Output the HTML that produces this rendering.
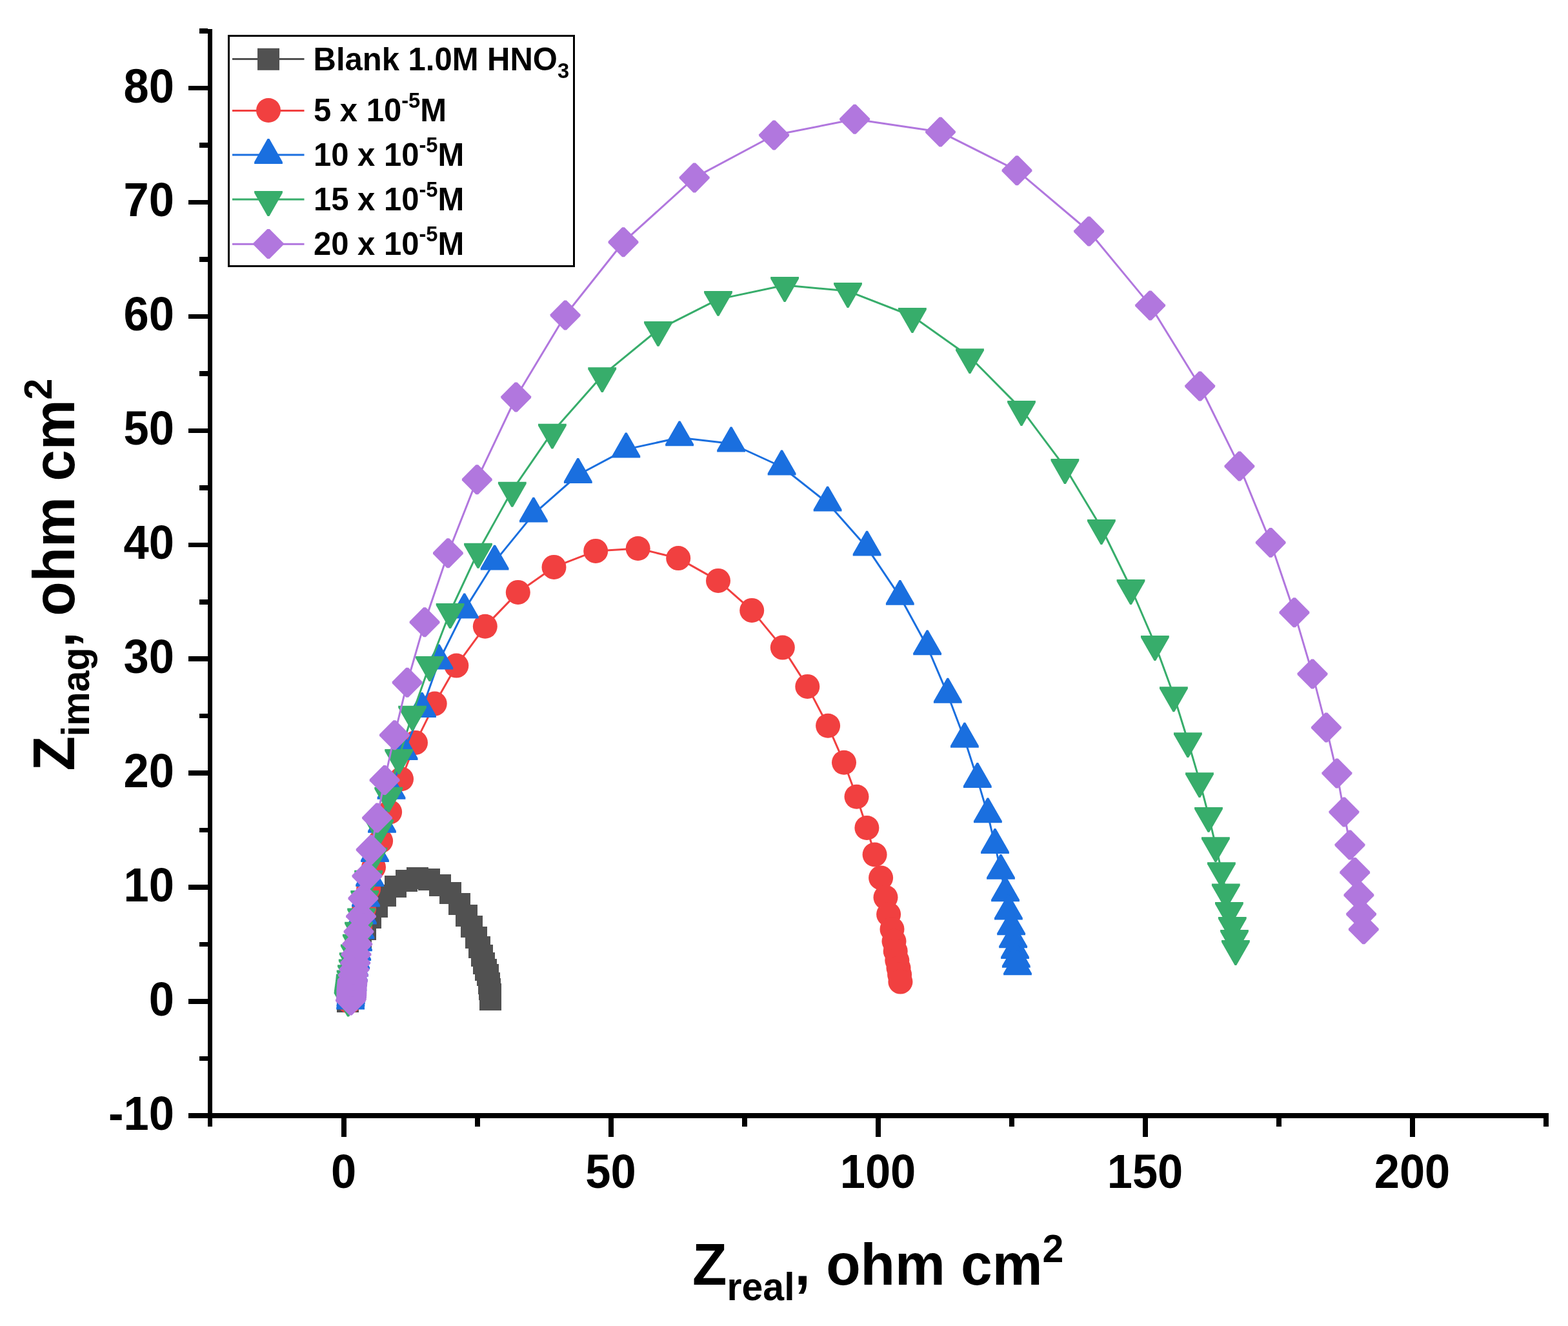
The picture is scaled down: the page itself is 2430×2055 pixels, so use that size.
<!DOCTYPE html>
<html><head><meta charset="utf-8"><title>Nyquist plot</title>
<style>html,body{margin:0;padding:0;background:#fff;overflow:hidden;}svg{display:block;}</style></head><body>
<svg width="2430" height="2055" viewBox="0 0 2430 2055">
<rect width="2430" height="2055" fill="#fff"/>
<g fill="#515151" shape-rendering="crispEdges">
<polyline points="538.9,1552 539.3,1547 539.8,1542 540.5,1536 541.5,1529 542.8,1521 544.5,1512 546.5,1503 549,1493 551.8,1483 555,1472 559.3,1456.8 566.1,1439.8 574.2,1422.1 584.3,1405.2 597.4,1388.2 612.9,1374 629.8,1364.7 647,1360.7 665.1,1362.8 682.3,1371.8 698.1,1383.9 712.1,1400.8 723.2,1418.8 731.1,1435.7 738,1452.8 743.1,1467.6 746.9,1480.8 750.1,1492.6 753.4,1502.9 755.6,1511.3 757.5,1523.8 759,1532.7 759.6,1541 760,1549" fill="none" stroke="#515151" stroke-width="3" stroke-linejoin="round"/>
<rect x="521.9" y="1535" width="34" height="34"/>
<rect x="522.3" y="1530" width="34" height="34"/>
<rect x="522.8" y="1525" width="34" height="34"/>
<rect x="523.5" y="1519" width="34" height="34"/>
<rect x="524.5" y="1512" width="34" height="34"/>
<rect x="525.8" y="1504" width="34" height="34"/>
<rect x="527.5" y="1495" width="34" height="34"/>
<rect x="529.5" y="1486" width="34" height="34"/>
<rect x="532" y="1476" width="34" height="34"/>
<rect x="534.8" y="1466" width="34" height="34"/>
<rect x="538" y="1455" width="34" height="34"/>
<rect x="542.3" y="1439.8" width="34" height="34"/>
<rect x="549.1" y="1422.8" width="34" height="34"/>
<rect x="557.2" y="1405.1" width="34" height="34"/>
<rect x="567.3" y="1388.2" width="34" height="34"/>
<rect x="580.4" y="1371.2" width="34" height="34"/>
<rect x="595.9" y="1357" width="34" height="34"/>
<rect x="612.8" y="1347.7" width="34" height="34"/>
<rect x="630" y="1343.7" width="34" height="34"/>
<rect x="648.1" y="1345.8" width="34" height="34"/>
<rect x="665.3" y="1354.8" width="34" height="34"/>
<rect x="681.1" y="1366.9" width="34" height="34"/>
<rect x="695.1" y="1383.8" width="34" height="34"/>
<rect x="706.2" y="1401.8" width="34" height="34"/>
<rect x="714.1" y="1418.7" width="34" height="34"/>
<rect x="721" y="1435.8" width="34" height="34"/>
<rect x="726.1" y="1450.6" width="34" height="34"/>
<rect x="729.9" y="1463.8" width="34" height="34"/>
<rect x="733.1" y="1475.6" width="34" height="34"/>
<rect x="736.4" y="1485.9" width="34" height="34"/>
<rect x="738.6" y="1494.3" width="34" height="34"/>
<rect x="740.5" y="1506.8" width="34" height="34"/>
<rect x="742" y="1515.7" width="34" height="34"/>
<rect x="742.6" y="1524" width="34" height="34"/>
<rect x="743" y="1532" width="34" height="34"/>
</g>
<g fill="#F14040">
<polyline points="541.5,1552 541.8,1548 542.1,1544 542.5,1539 543,1533 543.6,1527 544.4,1520 545.4,1512 546.7,1503 548.2,1493 549.8,1483 553,1462 558,1437 564,1408.7 571.2,1377 579,1344.1 590.1,1303.3 604.1,1258.5 622,1207.3 644,1150.9 673.7,1090.6 707.3,1031.6 751.8,970.8 802.8,917.9 858.5,878.9 923.2,853.9 988.7,850 1051.2,865.1 1113,899.9 1165.2,945.9 1212.8,1003.6 1251.3,1063.9 1283.1,1124.7 1308,1181.8 1327.5,1234.8 1343.4,1283 1355.6,1324.5 1365.1,1360.4 1372.5,1390.7 1377.1,1417 1382.5,1440 1385.5,1458.7 1387.7,1474 1390.3,1488.4 1392.5,1500.3 1394.1,1510.5 1395.4,1521.6" fill="none" stroke="#F14040" stroke-width="3" stroke-linejoin="round"/>
<circle cx="541.5" cy="1552" r="19"/>
<circle cx="541.8" cy="1548" r="19"/>
<circle cx="542.1" cy="1544" r="19"/>
<circle cx="542.5" cy="1539" r="19"/>
<circle cx="543" cy="1533" r="19"/>
<circle cx="543.6" cy="1527" r="19"/>
<circle cx="544.4" cy="1520" r="19"/>
<circle cx="545.4" cy="1512" r="19"/>
<circle cx="546.7" cy="1503" r="19"/>
<circle cx="548.2" cy="1493" r="19"/>
<circle cx="549.8" cy="1483" r="19"/>
<circle cx="553" cy="1462" r="19"/>
<circle cx="558" cy="1437" r="19"/>
<circle cx="564" cy="1408.7" r="19"/>
<circle cx="571.2" cy="1377" r="19"/>
<circle cx="579" cy="1344.1" r="19"/>
<circle cx="590.1" cy="1303.3" r="19"/>
<circle cx="604.1" cy="1258.5" r="19"/>
<circle cx="622" cy="1207.3" r="19"/>
<circle cx="644" cy="1150.9" r="19"/>
<circle cx="673.7" cy="1090.6" r="19"/>
<circle cx="707.3" cy="1031.6" r="19"/>
<circle cx="751.8" cy="970.8" r="19"/>
<circle cx="802.8" cy="917.9" r="19"/>
<circle cx="858.5" cy="878.9" r="19"/>
<circle cx="923.2" cy="853.9" r="19"/>
<circle cx="988.7" cy="850" r="19"/>
<circle cx="1051.2" cy="865.1" r="19"/>
<circle cx="1113" cy="899.9" r="19"/>
<circle cx="1165.2" cy="945.9" r="19"/>
<circle cx="1212.8" cy="1003.6" r="19"/>
<circle cx="1251.3" cy="1063.9" r="19"/>
<circle cx="1283.1" cy="1124.7" r="19"/>
<circle cx="1308" cy="1181.8" r="19"/>
<circle cx="1327.5" cy="1234.8" r="19"/>
<circle cx="1343.4" cy="1283" r="19"/>
<circle cx="1355.6" cy="1324.5" r="19"/>
<circle cx="1365.1" cy="1360.4" r="19"/>
<circle cx="1372.5" cy="1390.7" r="19"/>
<circle cx="1377.1" cy="1417" r="19"/>
<circle cx="1382.5" cy="1440" r="19"/>
<circle cx="1385.5" cy="1458.7" r="19"/>
<circle cx="1387.7" cy="1474" r="19"/>
<circle cx="1390.3" cy="1488.4" r="19"/>
<circle cx="1392.5" cy="1500.3" r="19"/>
<circle cx="1394.1" cy="1510.5" r="19"/>
<circle cx="1395.4" cy="1521.6" r="19"/>
</g>
<g fill="#1A6FDF">
<polyline points="543.1,1551.4 543.4,1547.5 543.8,1543.5 544.2,1539.5 544.7,1535 545.2,1531 545.8,1527 546.4,1523 547,1516 548.1,1508.6 549.1,1500.5 551.2,1489.2 553.2,1476 554.9,1461.2 558.3,1442.3 561.9,1419.5 567,1392.5 573.1,1360.9 581,1322.9 592,1277.8 606.5,1225.8 625.6,1164.9 654,1099 680.3,1024.5 719.7,945.4 766.6,870.6 826.9,796.6 895.8,736 970.3,696.4 1053.1,678.3 1133.1,687.5 1211.6,723.5 1282.6,779.6 1343.6,848.6 1394.8,924.8 1437.1,1002.3 1468.8,1076.7 1494.9,1145.7 1514.8,1207.9 1530.9,1262.3 1542,1310 1551,1349.8 1558,1384.2 1562.9,1412.6 1567.1,1436.3 1570.1,1456.2 1573,1473 1574.8,1486.8 1577,1498.3" fill="none" stroke="#1A6FDF" stroke-width="3" stroke-linejoin="round"/>
<path d="M541.8 1525.5 L544.5 1525.5 L565 1561.4 L565 1564.4 L521.2 1564.4 L521.2 1561.4Z"/>
<path d="M542 1521.6 L544.8 1521.6 L565.3 1557.5 L565.3 1560.5 L521.5 1560.5 L521.5 1557.5Z"/>
<path d="M542.4 1517.6 L545.1 1517.6 L565.7 1553.5 L565.7 1556.5 L521.9 1556.5 L521.9 1553.5Z"/>
<path d="M542.9 1513.6 L545.6 1513.6 L566.1 1549.5 L566.1 1552.5 L522.3 1552.5 L522.3 1549.5Z"/>
<path d="M543.4 1509.1 L546.1 1509.1 L566.6 1545 L566.6 1548 L522.8 1548 L522.8 1545Z"/>
<path d="M543.9 1505.1 L546.6 1505.1 L567.1 1541 L567.1 1544 L523.3 1544 L523.3 1541Z"/>
<path d="M544.4 1501.1 L547.1 1501.1 L567.7 1537 L567.7 1540 L523.9 1540 L523.9 1537Z"/>
<path d="M545 1497.1 L547.8 1497.1 L568.3 1533 L568.3 1536 L524.5 1536 L524.5 1533Z"/>
<path d="M545.6 1490.1 L548.4 1490.1 L568.9 1526 L568.9 1529 L525.1 1529 L525.1 1526Z"/>
<path d="M546.8 1482.7 L549.5 1482.7 L570 1518.6 L570 1521.6 L526.2 1521.6 L526.2 1518.6Z"/>
<path d="M547.8 1474.6 L550.5 1474.6 L571 1510.5 L571 1513.5 L527.2 1513.5 L527.2 1510.5Z"/>
<path d="M549.9 1463.3 L552.6 1463.3 L573.1 1499.2 L573.1 1502.2 L529.3 1502.2 L529.3 1499.2Z"/>
<path d="M551.9 1450.1 L554.6 1450.1 L575.1 1486 L575.1 1489 L531.3 1489 L531.3 1486Z"/>
<path d="M553.5 1435.3 L556.2 1435.3 L576.8 1471.2 L576.8 1474.2 L533 1474.2 L533 1471.2Z"/>
<path d="M556.9 1416.4 L559.6 1416.4 L580.2 1452.3 L580.2 1455.3 L536.4 1455.3 L536.4 1452.3Z"/>
<path d="M560.5 1393.6 L563.2 1393.6 L583.8 1429.5 L583.8 1432.5 L540 1432.5 L540 1429.5Z"/>
<path d="M565.6 1366.6 L568.4 1366.6 L588.9 1402.5 L588.9 1405.5 L545.1 1405.5 L545.1 1402.5Z"/>
<path d="M571.8 1335 L574.5 1335 L595 1370.9 L595 1373.9 L551.2 1373.9 L551.2 1370.9Z"/>
<path d="M579.6 1297 L582.4 1297 L602.9 1332.9 L602.9 1335.9 L559.1 1335.9 L559.1 1332.9Z"/>
<path d="M590.6 1251.9 L593.4 1251.9 L613.9 1287.8 L613.9 1290.8 L570.1 1290.8 L570.1 1287.8Z"/>
<path d="M605.1 1199.9 L607.9 1199.9 L628.4 1235.8 L628.4 1238.8 L584.6 1238.8 L584.6 1235.8Z"/>
<path d="M624.2 1139 L627 1139 L647.5 1174.9 L647.5 1177.9 L603.7 1177.9 L603.7 1174.9Z"/>
<path d="M652.6 1073.1 L655.4 1073.1 L675.9 1109 L675.9 1112 L632.1 1112 L632.1 1109Z"/>
<path d="M678.9 998.6 L681.6 998.6 L702.2 1034.5 L702.2 1037.5 L658.4 1037.5 L658.4 1034.5Z"/>
<path d="M718.4 919.5 L721.1 919.5 L741.6 955.4 L741.6 958.4 L697.8 958.4 L697.8 955.4Z"/>
<path d="M765.2 844.7 L768 844.7 L788.5 880.6 L788.5 883.6 L744.7 883.6 L744.7 880.6Z"/>
<path d="M825.5 770.7 L828.2 770.7 L848.8 806.6 L848.8 809.6 L805 809.6 L805 806.6Z"/>
<path d="M894.4 710.1 L897.1 710.1 L917.7 746 L917.7 749 L873.9 749 L873.9 746Z"/>
<path d="M968.9 670.5 L971.6 670.5 L992.2 706.4 L992.2 709.4 L948.4 709.4 L948.4 706.4Z"/>
<path d="M1051.8 652.4 L1054.4 652.4 L1075 688.3 L1075 691.3 L1031.2 691.3 L1031.2 688.3Z"/>
<path d="M1131.8 661.6 L1134.4 661.6 L1155 697.5 L1155 700.5 L1111.2 700.5 L1111.2 697.5Z"/>
<path d="M1210.2 697.6 L1212.9 697.6 L1233.5 733.5 L1233.5 736.5 L1189.7 736.5 L1189.7 733.5Z"/>
<path d="M1281.2 753.7 L1283.9 753.7 L1304.5 789.6 L1304.5 792.6 L1260.7 792.6 L1260.7 789.6Z"/>
<path d="M1342.2 822.7 L1344.9 822.7 L1365.5 858.6 L1365.5 861.6 L1321.7 861.6 L1321.7 858.6Z"/>
<path d="M1393.5 898.9 L1396.1 898.9 L1416.7 934.8 L1416.7 937.8 L1372.9 937.8 L1372.9 934.8Z"/>
<path d="M1435.8 976.4 L1438.4 976.4 L1459 1012.3 L1459 1015.3 L1415.2 1015.3 L1415.2 1012.3Z"/>
<path d="M1467.5 1050.8 L1470.1 1050.8 L1490.7 1086.7 L1490.7 1089.7 L1446.9 1089.7 L1446.9 1086.7Z"/>
<path d="M1493.6 1119.8 L1496.2 1119.8 L1516.8 1155.7 L1516.8 1158.7 L1473 1158.7 L1473 1155.7Z"/>
<path d="M1513.5 1182 L1516.1 1182 L1536.7 1217.9 L1536.7 1220.9 L1492.9 1220.9 L1492.9 1217.9Z"/>
<path d="M1529.6 1236.4 L1532.2 1236.4 L1552.8 1272.3 L1552.8 1275.3 L1509 1275.3 L1509 1272.3Z"/>
<path d="M1540.7 1284.1 L1543.3 1284.1 L1563.9 1320 L1563.9 1323 L1520.1 1323 L1520.1 1320Z"/>
<path d="M1549.7 1323.9 L1552.3 1323.9 L1572.9 1359.8 L1572.9 1362.8 L1529.1 1362.8 L1529.1 1359.8Z"/>
<path d="M1556.7 1358.3 L1559.3 1358.3 L1579.9 1394.2 L1579.9 1397.2 L1536.1 1397.2 L1536.1 1394.2Z"/>
<path d="M1561.6 1386.7 L1564.2 1386.7 L1584.8 1422.6 L1584.8 1425.6 L1541 1425.6 L1541 1422.6Z"/>
<path d="M1565.8 1410.4 L1568.4 1410.4 L1589 1446.3 L1589 1449.3 L1545.2 1449.3 L1545.2 1446.3Z"/>
<path d="M1568.8 1430.3 L1571.4 1430.3 L1592 1466.2 L1592 1469.2 L1548.2 1469.2 L1548.2 1466.2Z"/>
<path d="M1571.7 1447.1 L1574.3 1447.1 L1594.9 1483 L1594.9 1486 L1551.1 1486 L1551.1 1483Z"/>
<path d="M1573.5 1460.9 L1576.1 1460.9 L1596.7 1496.8 L1596.7 1499.8 L1552.9 1499.8 L1552.9 1496.8Z"/>
<path d="M1575.7 1472.4 L1578.3 1472.4 L1598.9 1508.3 L1598.9 1511.3 L1555.1 1511.3 L1555.1 1508.3Z"/>
</g>
<g fill="#37AD6B">
<polyline points="539.6,1549.6 539.9,1546.5 540.3,1543.5 540.7,1540.5 541.1,1537.5 541.5,1534.5 541.9,1531.3 542.3,1528.2 542.6,1525.3 542.8,1522.5 543.6,1516.4 545,1508.2 546.7,1499.5 547.7,1489.3 549.8,1476.6 552.8,1460.8 556,1441.8 560.1,1420.5 565.2,1393 571.1,1361.8 578.4,1326.6 588.2,1283 602.2,1232.8 618.2,1174 639.1,1106.7 666,1030 697.6,948 741,854.8 793.8,759.8 855.9,669.7 933.2,582.2 1020,510.9 1113,463.9 1216.1,442 1314,451.1 1413.9,490 1503,553.2 1583,634.1 1650.4,724.1 1706.9,818 1752.5,911 1789.9,998 1818.9,1077.3 1840.9,1148.2 1859,1210.2 1873,1263.9 1883.9,1310.2 1892.9,1349.2 1899.8,1382.4 1904.9,1411 1909.8,1434.1 1913,1454 1914.9,1470" fill="none" stroke="#37AD6B" stroke-width="3" stroke-linejoin="round"/>
<path d="M538.2 1575.5 L541 1575.5 L561.5 1539.6 L561.5 1536.6 L517.7 1536.6 L517.7 1539.6Z"/>
<path d="M538.5 1572.4 L541.2 1572.4 L561.8 1536.5 L561.8 1533.5 L518 1533.5 L518 1536.5Z"/>
<path d="M538.9 1569.4 L541.6 1569.4 L562.2 1533.5 L562.2 1530.5 L518.4 1530.5 L518.4 1533.5Z"/>
<path d="M539.4 1566.4 L542.1 1566.4 L562.6 1530.5 L562.6 1527.5 L518.8 1527.5 L518.8 1530.5Z"/>
<path d="M539.8 1563.4 L542.5 1563.4 L563 1527.5 L563 1524.5 L519.2 1524.5 L519.2 1527.5Z"/>
<path d="M540.1 1560.4 L542.9 1560.4 L563.4 1524.5 L563.4 1521.5 L519.6 1521.5 L519.6 1524.5Z"/>
<path d="M540.5 1557.2 L543.2 1557.2 L563.8 1521.3 L563.8 1518.3 L520 1518.3 L520 1521.3Z"/>
<path d="M540.9 1554.1 L543.6 1554.1 L564.2 1518.2 L564.2 1515.2 L520.4 1515.2 L520.4 1518.2Z"/>
<path d="M541.2 1551.2 L544 1551.2 L564.5 1515.3 L564.5 1512.3 L520.7 1512.3 L520.7 1515.3Z"/>
<path d="M541.4 1548.4 L544.1 1548.4 L564.7 1512.5 L564.7 1509.5 L520.9 1509.5 L520.9 1512.5Z"/>
<path d="M542.2 1542.3 L545 1542.3 L565.5 1506.4 L565.5 1503.4 L521.7 1503.4 L521.7 1506.4Z"/>
<path d="M543.6 1534.1 L546.4 1534.1 L566.9 1498.2 L566.9 1495.2 L523.1 1495.2 L523.1 1498.2Z"/>
<path d="M545.4 1525.4 L548.1 1525.4 L568.6 1489.5 L568.6 1486.5 L524.8 1486.5 L524.8 1489.5Z"/>
<path d="M546.4 1515.2 L549.1 1515.2 L569.6 1479.3 L569.6 1476.3 L525.8 1476.3 L525.8 1479.3Z"/>
<path d="M548.4 1502.5 L551.1 1502.5 L571.7 1466.6 L571.7 1463.6 L527.9 1463.6 L527.9 1466.6Z"/>
<path d="M551.4 1486.7 L554.1 1486.7 L574.7 1450.8 L574.7 1447.8 L530.9 1447.8 L530.9 1450.8Z"/>
<path d="M554.6 1467.7 L557.4 1467.7 L577.9 1431.8 L577.9 1428.8 L534.1 1428.8 L534.1 1431.8Z"/>
<path d="M558.8 1446.4 L561.5 1446.4 L582 1410.5 L582 1407.5 L538.2 1407.5 L538.2 1410.5Z"/>
<path d="M563.9 1418.9 L566.6 1418.9 L587.1 1383 L587.1 1380 L543.3 1380 L543.3 1383Z"/>
<path d="M569.8 1387.7 L572.5 1387.7 L593 1351.8 L593 1348.8 L549.2 1348.8 L549.2 1351.8Z"/>
<path d="M577 1352.5 L579.8 1352.5 L600.3 1316.6 L600.3 1313.6 L556.5 1313.6 L556.5 1316.6Z"/>
<path d="M586.9 1308.9 L589.6 1308.9 L610.1 1273 L610.1 1270 L566.3 1270 L566.3 1273Z"/>
<path d="M600.9 1258.7 L603.6 1258.7 L624.1 1222.8 L624.1 1219.8 L580.3 1219.8 L580.3 1222.8Z"/>
<path d="M616.9 1199.9 L619.6 1199.9 L640.1 1164 L640.1 1161 L596.3 1161 L596.3 1164Z"/>
<path d="M637.8 1132.6 L640.5 1132.6 L661 1096.7 L661 1093.7 L617.2 1093.7 L617.2 1096.7Z"/>
<path d="M664.6 1055.9 L667.4 1055.9 L687.9 1020 L687.9 1017 L644.1 1017 L644.1 1020Z"/>
<path d="M696.2 973.9 L699 973.9 L719.5 938 L719.5 935 L675.7 935 L675.7 938Z"/>
<path d="M739.6 880.7 L742.4 880.7 L762.9 844.8 L762.9 841.8 L719.1 841.8 L719.1 844.8Z"/>
<path d="M792.4 785.7 L795.1 785.7 L815.7 749.8 L815.7 746.8 L771.9 746.8 L771.9 749.8Z"/>
<path d="M854.5 695.6 L857.2 695.6 L877.8 659.7 L877.8 656.7 L834 656.7 L834 659.7Z"/>
<path d="M931.9 608.1 L934.6 608.1 L955.1 572.2 L955.1 569.2 L911.3 569.2 L911.3 572.2Z"/>
<path d="M1018.6 536.8 L1021.4 536.8 L1041.9 500.9 L1041.9 497.9 L998.1 497.9 L998.1 500.9Z"/>
<path d="M1111.7 489.8 L1114.3 489.8 L1134.9 453.9 L1134.9 450.9 L1091.1 450.9 L1091.1 453.9Z"/>
<path d="M1214.8 467.9 L1217.4 467.9 L1238 432 L1238 429 L1194.2 429 L1194.2 432Z"/>
<path d="M1312.7 477 L1315.3 477 L1335.9 441.1 L1335.9 438.1 L1292.1 438.1 L1292.1 441.1Z"/>
<path d="M1412.6 515.9 L1415.2 515.9 L1435.8 480 L1435.8 477 L1392 477 L1392 480Z"/>
<path d="M1501.7 579.1 L1504.3 579.1 L1524.9 543.2 L1524.9 540.2 L1481.1 540.2 L1481.1 543.2Z"/>
<path d="M1581.7 660 L1584.3 660 L1604.9 624.1 L1604.9 621.1 L1561.1 621.1 L1561.1 624.1Z"/>
<path d="M1649.1 750 L1651.8 750 L1672.3 714.1 L1672.3 711.1 L1628.5 711.1 L1628.5 714.1Z"/>
<path d="M1705.6 843.9 L1708.2 843.9 L1728.8 808 L1728.8 805 L1685 805 L1685 808Z"/>
<path d="M1751.2 936.9 L1753.8 936.9 L1774.4 901 L1774.4 898 L1730.6 898 L1730.6 901Z"/>
<path d="M1788.6 1023.9 L1791.2 1023.9 L1811.8 988 L1811.8 985 L1768 985 L1768 988Z"/>
<path d="M1817.6 1103.2 L1820.2 1103.2 L1840.8 1067.3 L1840.8 1064.3 L1797 1064.3 L1797 1067.3Z"/>
<path d="M1839.6 1174.1 L1842.2 1174.1 L1862.8 1138.2 L1862.8 1135.2 L1819 1135.2 L1819 1138.2Z"/>
<path d="M1857.7 1236.1 L1860.3 1236.1 L1880.9 1200.2 L1880.9 1197.2 L1837.1 1197.2 L1837.1 1200.2Z"/>
<path d="M1871.7 1289.8 L1874.3 1289.8 L1894.9 1253.9 L1894.9 1250.9 L1851.1 1250.9 L1851.1 1253.9Z"/>
<path d="M1882.6 1336.1 L1885.2 1336.1 L1905.8 1300.2 L1905.8 1297.2 L1862 1297.2 L1862 1300.2Z"/>
<path d="M1891.6 1375.1 L1894.2 1375.1 L1914.8 1339.2 L1914.8 1336.2 L1871 1336.2 L1871 1339.2Z"/>
<path d="M1898.5 1408.3 L1901.1 1408.3 L1921.7 1372.4 L1921.7 1369.4 L1877.9 1369.4 L1877.9 1372.4Z"/>
<path d="M1903.6 1436.9 L1906.2 1436.9 L1926.8 1401 L1926.8 1398 L1883 1398 L1883 1401Z"/>
<path d="M1908.5 1460 L1911.1 1460 L1931.7 1424.1 L1931.7 1421.1 L1887.9 1421.1 L1887.9 1424.1Z"/>
<path d="M1911.7 1479.9 L1914.3 1479.9 L1934.9 1444 L1934.9 1441 L1891.1 1441 L1891.1 1444Z"/>
<path d="M1913.6 1495.9 L1916.2 1495.9 L1936.8 1460 L1936.8 1457 L1893 1457 L1893 1460Z"/>
</g>
<g fill="#B177DE">
<polyline points="543.5,1550.5 544.3,1548 544.6,1545 544.8,1542 544.9,1539 544.9,1536 545,1533 545.2,1530 545.5,1527 545.8,1524 546.1,1521.5 546.4,1519 547.4,1511.2 549,1502.6 550.7,1492.3 552,1479.1 553.8,1463.1 556,1443.9 559.5,1420.1 562.9,1392.3 568.9,1357.7 575.1,1316.9 584.5,1267.6 596.1,1209 611.4,1139.3 631.1,1057.8 658.1,964.3 694.4,857.3 739.3,743.2 799.7,615.5 876.1,488.5 966,375.2 1076.2,275.4 1199.6,209.5 1324.6,184.8 1457.5,204.6 1576,264.2 1687.6,358.5 1782.6,473.4 1859.7,598.5 1920.9,722.6 1969.2,840.9 2005.9,949.3 2034,1044.5 2055.4,1127.6 2071.9,1198.4 2082.9,1258.5 2092,1309.5 2099.7,1352 2105.9,1387.2 2109.6,1416.7 2113.3,1440.2" fill="none" stroke="#B177DE" stroke-width="3" stroke-linejoin="round"/>
<path d="M541.7 1527.5 L545.3 1527.5 L566.9 1549.3 L566.9 1551.7 L545.3 1573.5 L541.7 1573.5 L520.1 1551.7 L520.1 1549.3Z"/>
<path d="M542.5 1525 L546.1 1525 L567.7 1546.8 L567.7 1549.2 L546.1 1571 L542.5 1571 L520.9 1549.2 L520.9 1546.8Z"/>
<path d="M542.8 1522 L546.4 1522 L568 1543.8 L568 1546.2 L546.4 1568 L542.8 1568 L521.2 1546.2 L521.2 1543.8Z"/>
<path d="M543 1519 L546.6 1519 L568.2 1540.8 L568.2 1543.2 L546.6 1565 L543 1565 L521.4 1543.2 L521.4 1540.8Z"/>
<path d="M543.1 1516 L546.7 1516 L568.3 1537.8 L568.3 1540.2 L546.7 1562 L543.1 1562 L521.5 1540.2 L521.5 1537.8Z"/>
<path d="M543.1 1513 L546.7 1513 L568.3 1534.8 L568.3 1537.2 L546.7 1559 L543.1 1559 L521.5 1537.2 L521.5 1534.8Z"/>
<path d="M543.2 1510 L546.8 1510 L568.4 1531.8 L568.4 1534.2 L546.8 1556 L543.2 1556 L521.6 1534.2 L521.6 1531.8Z"/>
<path d="M543.4 1507 L547 1507 L568.6 1528.8 L568.6 1531.2 L547 1553 L543.4 1553 L521.8 1531.2 L521.8 1528.8Z"/>
<path d="M543.7 1504 L547.3 1504 L568.9 1525.8 L568.9 1528.2 L547.3 1550 L543.7 1550 L522.1 1528.2 L522.1 1525.8Z"/>
<path d="M544 1501 L547.6 1501 L569.2 1522.8 L569.2 1525.2 L547.6 1547 L544 1547 L522.4 1525.2 L522.4 1522.8Z"/>
<path d="M544.3 1498.5 L547.9 1498.5 L569.5 1520.3 L569.5 1522.7 L547.9 1544.5 L544.3 1544.5 L522.7 1522.7 L522.7 1520.3Z"/>
<path d="M544.6 1496 L548.2 1496 L569.8 1517.8 L569.8 1520.2 L548.2 1542 L544.6 1542 L523 1520.2 L523 1517.8Z"/>
<path d="M545.6 1488.2 L549.2 1488.2 L570.8 1510 L570.8 1512.4 L549.2 1534.2 L545.6 1534.2 L524 1512.4 L524 1510Z"/>
<path d="M547.2 1479.6 L550.8 1479.6 L572.4 1501.4 L572.4 1503.8 L550.8 1525.6 L547.2 1525.6 L525.6 1503.8 L525.6 1501.4Z"/>
<path d="M548.9 1469.3 L552.5 1469.3 L574.1 1491.1 L574.1 1493.5 L552.5 1515.3 L548.9 1515.3 L527.3 1493.5 L527.3 1491.1Z"/>
<path d="M550.2 1456.1 L553.8 1456.1 L575.4 1477.9 L575.4 1480.3 L553.8 1502.1 L550.2 1502.1 L528.6 1480.3 L528.6 1477.9Z"/>
<path d="M552 1440.1 L555.6 1440.1 L577.2 1461.9 L577.2 1464.3 L555.6 1486.1 L552 1486.1 L530.4 1464.3 L530.4 1461.9Z"/>
<path d="M554.2 1420.9 L557.8 1420.9 L579.4 1442.7 L579.4 1445.1 L557.8 1466.9 L554.2 1466.9 L532.6 1445.1 L532.6 1442.7Z"/>
<path d="M557.7 1397.1 L561.3 1397.1 L582.9 1418.9 L582.9 1421.3 L561.3 1443.1 L557.7 1443.1 L536.1 1421.3 L536.1 1418.9Z"/>
<path d="M561.1 1369.3 L564.7 1369.3 L586.3 1391.1 L586.3 1393.5 L564.7 1415.3 L561.1 1415.3 L539.5 1393.5 L539.5 1391.1Z"/>
<path d="M567.1 1334.7 L570.7 1334.7 L592.3 1356.5 L592.3 1358.9 L570.7 1380.7 L567.1 1380.7 L545.5 1358.9 L545.5 1356.5Z"/>
<path d="M573.3 1293.9 L576.9 1293.9 L598.5 1315.7 L598.5 1318.1 L576.9 1339.9 L573.3 1339.9 L551.7 1318.1 L551.7 1315.7Z"/>
<path d="M582.7 1244.6 L586.3 1244.6 L607.9 1266.4 L607.9 1268.8 L586.3 1290.6 L582.7 1290.6 L561.1 1268.8 L561.1 1266.4Z"/>
<path d="M594.3 1186 L597.9 1186 L619.5 1207.8 L619.5 1210.2 L597.9 1232 L594.3 1232 L572.7 1210.2 L572.7 1207.8Z"/>
<path d="M609.6 1116.3 L613.2 1116.3 L634.8 1138.1 L634.8 1140.5 L613.2 1162.3 L609.6 1162.3 L588 1140.5 L588 1138.1Z"/>
<path d="M629.3 1034.8 L632.9 1034.8 L654.5 1056.6 L654.5 1059 L632.9 1080.8 L629.3 1080.8 L607.7 1059 L607.7 1056.6Z"/>
<path d="M656.3 941.3 L659.9 941.3 L681.5 963.1 L681.5 965.5 L659.9 987.3 L656.3 987.3 L634.7 965.5 L634.7 963.1Z"/>
<path d="M692.6 834.3 L696.2 834.3 L717.8 856.1 L717.8 858.5 L696.2 880.3 L692.6 880.3 L671 858.5 L671 856.1Z"/>
<path d="M737.5 720.2 L741.1 720.2 L762.7 742 L762.7 744.4 L741.1 766.2 L737.5 766.2 L715.9 744.4 L715.9 742Z"/>
<path d="M797.9 592.5 L801.5 592.5 L823.1 614.3 L823.1 616.7 L801.5 638.5 L797.9 638.5 L776.3 616.7 L776.3 614.3Z"/>
<path d="M874.3 465.5 L877.9 465.5 L899.5 487.3 L899.5 489.7 L877.9 511.5 L874.3 511.5 L852.7 489.7 L852.7 487.3Z"/>
<path d="M964.2 352.2 L967.8 352.2 L989.4 374 L989.4 376.4 L967.8 398.2 L964.2 398.2 L942.6 376.4 L942.6 374Z"/>
<path d="M1074.4 252.4 L1078 252.4 L1099.6 274.2 L1099.6 276.6 L1078 298.4 L1074.4 298.4 L1052.8 276.6 L1052.8 274.2Z"/>
<path d="M1197.8 186.5 L1201.4 186.5 L1223 208.3 L1223 210.7 L1201.4 232.5 L1197.8 232.5 L1176.2 210.7 L1176.2 208.3Z"/>
<path d="M1322.8 161.8 L1326.4 161.8 L1348 183.6 L1348 186 L1326.4 207.8 L1322.8 207.8 L1301.2 186 L1301.2 183.6Z"/>
<path d="M1455.7 181.6 L1459.3 181.6 L1480.9 203.4 L1480.9 205.8 L1459.3 227.6 L1455.7 227.6 L1434.1 205.8 L1434.1 203.4Z"/>
<path d="M1574.2 241.2 L1577.8 241.2 L1599.4 263 L1599.4 265.4 L1577.8 287.2 L1574.2 287.2 L1552.6 265.4 L1552.6 263Z"/>
<path d="M1685.8 335.5 L1689.4 335.5 L1711 357.3 L1711 359.7 L1689.4 381.5 L1685.8 381.5 L1664.2 359.7 L1664.2 357.3Z"/>
<path d="M1780.8 450.4 L1784.4 450.4 L1806 472.2 L1806 474.6 L1784.4 496.4 L1780.8 496.4 L1759.2 474.6 L1759.2 472.2Z"/>
<path d="M1857.9 575.5 L1861.5 575.5 L1883.1 597.3 L1883.1 599.7 L1861.5 621.5 L1857.9 621.5 L1836.3 599.7 L1836.3 597.3Z"/>
<path d="M1919.1 699.6 L1922.7 699.6 L1944.3 721.4 L1944.3 723.8 L1922.7 745.6 L1919.1 745.6 L1897.5 723.8 L1897.5 721.4Z"/>
<path d="M1967.4 817.9 L1971 817.9 L1992.6 839.7 L1992.6 842.1 L1971 863.9 L1967.4 863.9 L1945.8 842.1 L1945.8 839.7Z"/>
<path d="M2004.1 926.3 L2007.7 926.3 L2029.3 948.1 L2029.3 950.5 L2007.7 972.3 L2004.1 972.3 L1982.5 950.5 L1982.5 948.1Z"/>
<path d="M2032.2 1021.5 L2035.8 1021.5 L2057.4 1043.3 L2057.4 1045.7 L2035.8 1067.5 L2032.2 1067.5 L2010.6 1045.7 L2010.6 1043.3Z"/>
<path d="M2053.6 1104.6 L2057.2 1104.6 L2078.8 1126.4 L2078.8 1128.8 L2057.2 1150.6 L2053.6 1150.6 L2032 1128.8 L2032 1126.4Z"/>
<path d="M2070.1 1175.4 L2073.7 1175.4 L2095.3 1197.2 L2095.3 1199.6 L2073.7 1221.4 L2070.1 1221.4 L2048.5 1199.6 L2048.5 1197.2Z"/>
<path d="M2081.1 1235.5 L2084.7 1235.5 L2106.3 1257.3 L2106.3 1259.7 L2084.7 1281.5 L2081.1 1281.5 L2059.5 1259.7 L2059.5 1257.3Z"/>
<path d="M2090.2 1286.5 L2093.8 1286.5 L2115.4 1308.3 L2115.4 1310.7 L2093.8 1332.5 L2090.2 1332.5 L2068.6 1310.7 L2068.6 1308.3Z"/>
<path d="M2097.9 1329 L2101.5 1329 L2123.1 1350.8 L2123.1 1353.2 L2101.5 1375 L2097.9 1375 L2076.3 1353.2 L2076.3 1350.8Z"/>
<path d="M2104.1 1364.2 L2107.7 1364.2 L2129.3 1386 L2129.3 1388.4 L2107.7 1410.2 L2104.1 1410.2 L2082.5 1388.4 L2082.5 1386Z"/>
<path d="M2107.8 1393.7 L2111.4 1393.7 L2133 1415.5 L2133 1417.9 L2111.4 1439.7 L2107.8 1439.7 L2086.2 1417.9 L2086.2 1415.5Z"/>
<path d="M2111.5 1417.2 L2115.1 1417.2 L2136.7 1439 L2136.7 1441.4 L2115.1 1463.2 L2111.5 1463.2 L2089.9 1441.4 L2089.9 1439Z"/>
</g>
<g fill="#000" shape-rendering="crispEdges">
<rect x="322" y="45" width="7" height="1688"/>
<rect x="322" y="1725" width="2078" height="8"/>
<rect x="292" y="1725.2" width="30" height="7.5"/>
<rect x="292" y="1548.2" width="30" height="7.5"/>
<rect x="292" y="1371.3" width="30" height="7.5"/>
<rect x="292" y="1194.4" width="30" height="7.5"/>
<rect x="292" y="1017.4" width="30" height="7.5"/>
<rect x="292" y="840.5" width="30" height="7.5"/>
<rect x="292" y="663.6" width="30" height="7.5"/>
<rect x="292" y="486.6" width="30" height="7.5"/>
<rect x="292" y="309.7" width="30" height="7.5"/>
<rect x="292" y="132.7" width="30" height="7.5"/>
<rect x="309" y="1636.7" width="13" height="7.5"/>
<rect x="309" y="1459.8" width="13" height="7.5"/>
<rect x="309" y="1282.8" width="13" height="7.5"/>
<rect x="309" y="1105.9" width="13" height="7.5"/>
<rect x="309" y="929" width="13" height="7.5"/>
<rect x="309" y="752" width="13" height="7.5"/>
<rect x="309" y="575.1" width="13" height="7.5"/>
<rect x="309" y="398.1" width="13" height="7.5"/>
<rect x="309" y="221.2" width="13" height="7.5"/>
<rect x="309" y="44.3" width="13" height="7.5"/>
<rect x="529" y="1733" width="8" height="29"/>
<rect x="943" y="1733" width="8" height="29"/>
<rect x="1357" y="1733" width="8" height="29"/>
<rect x="1771" y="1733" width="8" height="29"/>
<rect x="2185" y="1733" width="8" height="29"/>
<rect x="322" y="1733" width="7" height="13"/>
<rect x="736.2" y="1733" width="7.5" height="13"/>
<rect x="1150.2" y="1733" width="7.5" height="13"/>
<rect x="1564.2" y="1733" width="7.5" height="13"/>
<rect x="1978.2" y="1733" width="7.5" height="13"/>
<rect x="2392.2" y="1733" width="7.5" height="13"/>
</g>
<g font-family="'Liberation Sans', Arial, sans-serif" font-weight="bold" font-size="70.5" fill="#000">
<text transform="translate(270 1750.9) scale(1 1.04)" text-anchor="end">-10</text>
<text transform="translate(270 1574) scale(1 1.04)" text-anchor="end">0</text>
<text transform="translate(270 1397.1) scale(1 1.04)" text-anchor="end">10</text>
<text transform="translate(270 1220.1) scale(1 1.04)" text-anchor="end">20</text>
<text transform="translate(270 1043.2) scale(1 1.04)" text-anchor="end">30</text>
<text transform="translate(270 866.2) scale(1 1.04)" text-anchor="end">40</text>
<text transform="translate(270 689.3) scale(1 1.04)" text-anchor="end">50</text>
<text transform="translate(270 512.4) scale(1 1.04)" text-anchor="end">60</text>
<text transform="translate(270 335.4) scale(1 1.04)" text-anchor="end">70</text>
<text transform="translate(270 158.5) scale(1 1.04)" text-anchor="end">80</text>
<text transform="translate(532.5 1841) scale(1 1.04)" text-anchor="middle">0</text>
<text transform="translate(946.5 1841) scale(1 1.04)" text-anchor="middle">50</text>
<text transform="translate(1360.5 1841) scale(1 1.04)" text-anchor="middle">100</text>
<text transform="translate(1774.5 1841) scale(1 1.04)" text-anchor="middle">150</text>
<text transform="translate(2188.5 1841) scale(1 1.04)" text-anchor="middle">200</text>
</g>
<g font-family="'Liberation Sans', Arial, sans-serif" font-weight="bold" fill="#000">
<text transform="translate(1073.1 1991) scale(1 1.04)" font-size="87.5">Z<tspan font-size="59" dy="23.1">real</tspan><tspan dy="-23.1">, ohm cm</tspan><tspan font-size="59" dy="-34.1">2</tspan></text>
<text transform="translate(115.2 1194.6) rotate(-90) scale(1 1.04)" font-size="87.5">Z<tspan font-size="59" dy="21.9">imag</tspan><tspan dy="-21.9">, ohm cm</tspan><tspan font-size="59" dy="-34.1">2</tspan></text>
</g>
<rect x="354.5" y="55.5" width="535" height="357" fill="#fff" stroke="#000" stroke-width="3"/>
<g fill="#515151"><rect x="360" y="90" width="111.5" height="3"/><rect x="399" y="74.8" width="34" height="34"/></g>
<g fill="#F14040"><rect x="360" y="170" width="111.5" height="3"/><circle cx="416" cy="171" r="19"/></g>
<g fill="#1A6FDF"><rect x="360" y="238.5" width="111.5" height="3"/><path d="M414.6 215.1 L417.4 215.1 L437.9 251 L437.9 254 L394.1 254 L394.1 251Z"/></g>
<g fill="#37AD6B"><rect x="360" y="307.5" width="111.5" height="3"/><path d="M414.6 334.9 L417.4 334.9 L437.9 299 L437.9 296 L394.1 296 L394.1 299Z"/></g>
<g fill="#B177DE"><rect x="360" y="376.8" width="111.5" height="3"/><path d="M414.2 355 L417.8 355 L439.4 376.8 L439.4 379.2 L417.8 401 L414.2 401 L392.6 379.2 L392.6 376.8Z"/></g>
<g font-family="'Liberation Sans', Arial, sans-serif" font-weight="bold" font-size="49" fill="#000">
<text transform="translate(485.5 108.9) scale(1 1.035)">Blank 1.0M HNO<tspan font-size="32.7" dy="12.1">3</tspan></text>
<text transform="translate(486 187.8) scale(1 1.035)">5 x 10<tspan font-size="32.7" dy="-20.4">-5</tspan><tspan dy="20.4">M</tspan></text>
<text transform="translate(486 256.9) scale(1 1.035)">10 x 10<tspan font-size="32.7" dy="-20.4">-5</tspan><tspan dy="20.4">M</tspan></text>
<text transform="translate(486 325.9) scale(1 1.035)">15 x 10<tspan font-size="32.7" dy="-20.4">-5</tspan><tspan dy="20.4">M</tspan></text>
<text transform="translate(486 394.9) scale(1 1.035)">20 x 10<tspan font-size="32.7" dy="-20.4">-5</tspan><tspan dy="20.4">M</tspan></text>
</g>
</svg></body></html>
